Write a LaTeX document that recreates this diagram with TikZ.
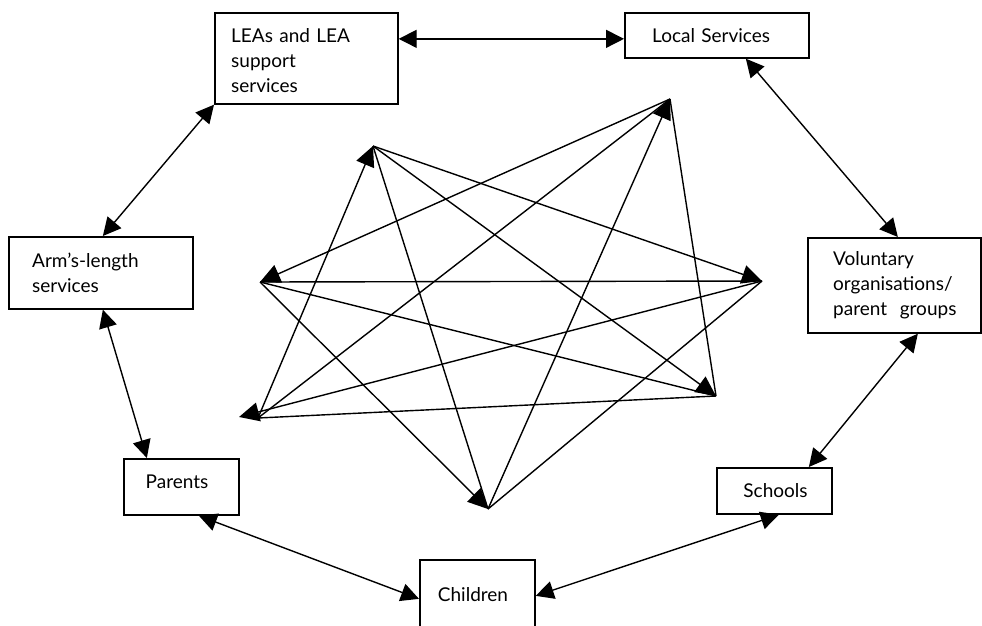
\documentclass[tikz,border=0pt]{standalone}
\usepackage{fontspec}
\setmainfont{Lato}
\usetikzlibrary{arrows.meta}
\begin{document}
\begin{tikzpicture}[x=1pt,y=-1pt,
  box/.style={draw, line width=1.7pt, inner sep=0pt, anchor=north west},
  lbl/.style={inner sep=0pt, anchor=base west, align=left, text width=#1,
              font=\fontsize{19}{25}\selectfont},
  word/.style={inner sep=0pt, anchor=base, font=\fontsize{19}{25}\selectfont},
  link/.style={line width=1.4pt,
               {Triangle[length=18pt,width=18pt]}-{Triangle[length=18pt,width=18pt]}},
  seg/.style={line width=1.4pt},
  ray/.style={line width=1.4pt, -{Triangle[length=20pt,width=19pt]}},
]
\path[use as bounding box] (0,0) rectangle (982,625);

% outer ring of boxes
\node[box, minimum width=183pt, minimum height=91pt] (lea) at (214,12) {};
\node[box, minimum width=184pt, minimum height=45pt] (loc) at (624,12) {};
\node[box, minimum width=173pt, minimum height=95pt] (vol) at (807,237) {};
\node[box, minimum width=184pt, minimum height=72pt] (arm) at (8,236) {};
\node[box, minimum width=115pt, minimum height=56pt] (par) at (123,458) {};
\node[box, minimum width=115pt, minimum height=81pt] (chi) at (419,559) {};
\node[box, minimum width=115pt, minimum height=46pt] (sch) at (716,467) {};

% box texts
\node[lbl=160pt] (leaT) at (231,42) {LEAs and LEA\\support\\services};
\node[lbl=170pt] (locT) at (652,42) {Local Services};
\node[lbl=150pt] (volT) at (833,265) {Voluntary\\organisations/\\parent\ \ groups};
\node[lbl=160pt] (armT) at (32,267) {Arm’s-length\\services};
\node[word] (parT) at (177,488) {Parents};
\node[word] (chiT) at (473,601) {Children};
\node[word] (schT) at (775.5,497) {Schools};

% two-way links between neighbouring boxes
\coordinate (locIn) at ([yshift=-3.5pt]loc.west);
\draw[link] (lea.east |- locIn) -- (locIn);
\draw[link] (lea.south west) -- ([xshift=2pt]arm.north);
\draw[link] ([xshift=29pt]loc.south) -- ([xshift=3.5pt]vol.north);
\draw[link] ([xshift=23.5pt]vol.south) -- ([xshift=34.5pt]sch.north);
\draw[link] ([xshift=4.5pt]sch.south) -- ([yshift=4.5pt]chi.east);
\draw[link] ([xshift=17.5pt]par.south) -- ([yshift=1.5pt]chi.west);
\draw[link] ([xshift=2pt]arm.south) -- ([xshift=-34.5pt]par.north);

% central star of seven points
\coordinate (A) at (373,146);
\coordinate (B) at (670,99);
\coordinate (C) at (260,282);
\coordinate (D) at (762,281);
\coordinate (E) at (258,418);
\coordinate (Etip) at (239,417);
\coordinate (F) at (716,396);
\coordinate (G) at (488,509);

\draw[ray] (E) -- (A);
\draw[ray] (G) -- (B);
\draw[ray] (B) -- (C);
\draw[ray] (A) -- (D);
\draw[ray] (D) -- (Etip);
\draw[ray] (A) -- (F);
\draw[ray] (C) -- (G);

\draw[seg] (A) -- (G);
\draw[seg] (B) -- (E);
\draw[seg] (B) -- (F);
\draw[seg] (C) -- (D);
\draw[seg] (C) -- (F);
\draw[seg] (D) -- (G);
\draw[seg] (E) -- (F);
\end{tikzpicture}
\end{document}
